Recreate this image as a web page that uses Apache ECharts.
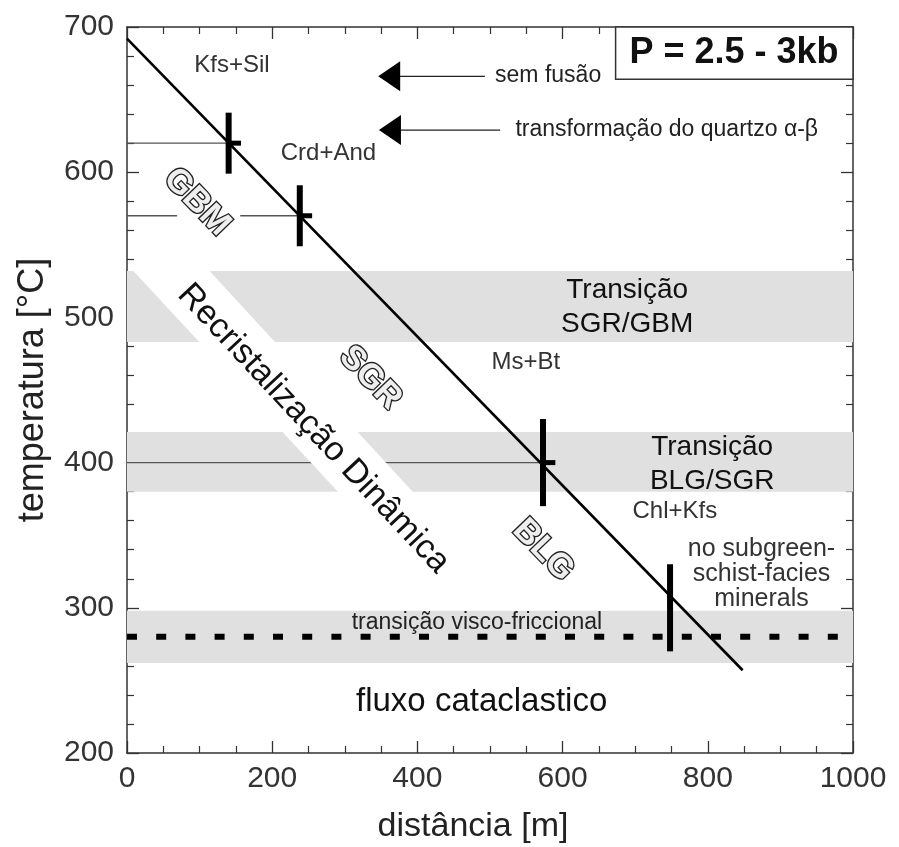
<!DOCTYPE html>
<html><head><meta charset="utf-8">
<script src="https://cdn.jsdelivr.net/npm/echarts@6/dist/echarts.min.js"></script>
<style>html,body{margin:0;padding:0;background:#fff}#c{width:899px;height:847px}</style>
</head><body><div id="c"></div>
<script>
// ---- data (distance in m, temperature in °C) ----
const xRange = [0, 1000];
const yRange = [200, 700];
const bands = [[483, 532], [380, 421], [262, 298]];          // transition temperature ranges
const stripe = [[5, 534], [110, 534], [397, 378], [294, 378]]; // white "Recristalização Dinâmica" strip
const geotherm = [[0, 692], [848, 257]];
const thinLines = [[0, 620, 140, 620], [0, 570, 69, 570], [156, 570, 238, 570], [0, 400, 573, 400]];
const crossBars = [[140, 599, 140, 641], [238, 549, 238, 591], [573, 370, 573, 430], [748, 270, 748, 330]];
const crossArms = [[138, 620, 157, 620], [236, 570, 255, 570], [571, 400, 590, 400]];
const dashedLine = [[0, 280], [1000, 280]];
const arrows = [[346, 666, 493], [347, 629, 514]];            // tip x, temperature, tail x

// annotation anchors (data coords)
const mineralLabels = [
  ['Kfs+Sil', 144.5, 673.6], ['Crd+And', 277.5, 612.8], ['Ms+Bt', 549.5, 468.7],
  ['Chl+Kfs', 754.6, 366.5], ['no subgreen-\nschist-facies\nminerals', 874, 323]
];
const arrowLabels = [['sem fusão', 507, 666.5], ['transformação do quartzo α-β', 535, 629]];
const transitionLabels = [['Transição\nSGR/GBM', 689, 507], ['Transição\nBLG/SGR', 806, 398.5]];
const outlineLabels = [['GBM', 96.3, 579.5], ['SGR', 335, 458.4], ['BLG', 573.4, 339.6]];
const regimeLabel = ['Recristalização Dinâmica', 256.8, 423.4];
const viscoLabel = ['transição visco-friccional', 482, 290];
const cataLabel = ['fluxo cataclastico', 488.5, 235.2];
const pressureLabel = ['P = 2.5 - 3kb', 836, 681.7];
const pressureBox = [[673, 700], [1000, 664]];

const FONT = '"Liberation Sans", Arial, Helvetica, sans-serif';
const chart = echarts.init(document.getElementById('c'));

function segItem(color, width) {
  return function (params, api) {
    const a = api.coord([api.value(0), api.value(1)]);
    const b = api.coord([api.value(2), api.value(3)]);
    return { type: 'line', shape: { x1: a[0], y1: a[1], x2: b[0], y2: b[1] },
      style: { stroke: color, lineWidth: width, lineCap: 'butt' } };
  };
}

const axisCommon = {
  axisLine: { show: true, onZero: false, lineStyle: { color: '#333', width: 1.5 } },
  axisTick: { show: true, inside: true, length: 12, lineStyle: { color: '#333', width: 1.3 } },
  minorTick: { show: true, length: 7, lineStyle: { color: '#333', width: 1.2 } },
  splitLine: { show: false }
};
const plain = function (v) { return String(v); };

chart.setOption({
  animation: false,
  backgroundColor: '#fff',
  grid: { left: 127, right: 46, top: 27, bottom: 94, containLabel: false, outerBoundsMode: 'none' },
  xAxis: [
    Object.assign({}, axisCommon, {
      type: 'value', min: xRange[0], max: xRange[1], interval: 200, position: 'bottom',
      minorTick: Object.assign({}, axisCommon.minorTick, { splitNumber: 4 }),
      axisLabel: { fontSize: 30, color: '#333', fontFamily: FONT, margin: 11, formatter: plain },
      name: 'distância [m]', nameLocation: 'middle', nameGap: 57,
      nameTextStyle: { fontSize: 34, color: '#222', fontFamily: FONT, padding: [0, 34, 0, 0] }
    }),
    Object.assign({}, axisCommon, {
      type: 'value', min: xRange[0], max: xRange[1], interval: 200, position: 'top',
      minorTick: Object.assign({}, axisCommon.minorTick, { splitNumber: 4 }),
      axisLabel: { show: false }
    })
  ],
  yAxis: [
    Object.assign({}, axisCommon, {
      type: 'value', min: yRange[0], max: yRange[1], interval: 100, position: 'left',
      minorTick: Object.assign({}, axisCommon.minorTick, { splitNumber: 5 }),
      axisLabel: { fontSize: 30, color: '#333', fontFamily: FONT, margin: 13, formatter: plain },
      name: 'temperatura [°C]', nameLocation: 'middle', nameGap: 76, nameRotate: 90,
      nameTextStyle: { fontSize: 36, color: '#222', fontFamily: FONT }
    }),
    Object.assign({}, axisCommon, {
      type: 'value', min: yRange[0], max: yRange[1], interval: 100, position: 'right',
      minorTick: Object.assign({}, axisCommon.minorTick, { splitNumber: 5 }),
      axisLabel: { show: false }
    })
  ],
  series: [
    { type: 'custom', z: 1, silent: true, data: bands,
      renderItem: function (params, api) {
        const p1 = api.coord([xRange[0], api.value(1)]);
        const p2 = api.coord([xRange[1], api.value(0)]);
        return { type: 'rect', shape: { x: p1[0], y: p1[1], width: p2[0] - p1[0], height: p2[1] - p1[1] },
          style: { fill: '#e0e0e0' } };
      } },
    { type: 'custom', z: 2, silent: true, data: thinLines, renderItem: segItem('#555', 1.4) },
    { type: 'custom', z: 3, silent: true, data: [[0, 0]],
      renderItem: function (params, api) {
        return { type: 'polygon', shape: { points: stripe.map(function (p) { return api.coord(p); }) },
          style: { fill: '#fff' } };
      } },
    { type: 'line', z: 4, data: dashedLine, symbol: 'none', silent: true,
      lineStyle: { color: '#000', width: 6, type: [10, 19.2], cap: 'butt' } },
    { type: 'line', z: 5, data: geotherm, symbol: 'none', silent: true,
      lineStyle: { color: '#000', width: 2.6 } },
    { type: 'custom', z: 6, silent: true, data: crossBars, renderItem: segItem('#000', 6) },
    { type: 'custom', z: 6, silent: true, data: crossArms, renderItem: segItem('#000', 5) },
    { type: 'custom', z: 6, silent: true, data: arrows,
      renderItem: function (params, api) {
        const tip = api.coord([api.value(0), api.value(1)]);
        const tail = api.coord([api.value(2), api.value(1)]);
        return { type: 'group', children: [
          { type: 'line', shape: { x1: tip[0] + 10, y1: tip[1], x2: tail[0], y2: tail[1] },
            style: { stroke: '#222', lineWidth: 1.4 } },
          { type: 'polygon', shape: { points: [[tip[0], tip[1]], [tip[0] + 22, tip[1] - 15], [tip[0] + 22, tip[1] + 15]] },
            style: { fill: '#000' } }
        ] };
      } }
  ]
});

function px(x, y) { return chart.convertToPixel({ gridIndex: 0 }, [x, y]); }
function txt(label, size, opts) {
  const p = px(label[1], label[2]);
  return Object.assign({ type: 'text', x: p[0], y: p[1], z: 100, silent: true,
    style: Object.assign({ text: label[0], font: size + 'px ' + FONT, fill: '#333',
      textAlign: 'center', textVerticalAlign: 'middle' }, opts || {}) });
}
const g = [];
mineralLabels.forEach(function (l, i) {
  g.push(txt(l, i === 4 ? 25 : 24, { fill: '#333', lineHeight: 25 }));
});
arrowLabels.forEach(function (l) {
  g.push(txt(l, 23, { fill: '#222', textAlign: 'left' }));
});
transitionLabels.forEach(function (l) {
  g.push(txt(l, 28, { fill: '#111', lineHeight: 34 }));
});
outlineLabels.forEach(function (l) {
  const e = txt(l, 34, { font: 'bold 34px ' + FONT, fill: '#eeeeee', stroke: '#222', lineWidth: 2.7 });
  e.rotation = -46 * Math.PI / 180;
  g.push(e);
});
const rl = txt(regimeLabel, 34, { fill: '#111' });
rl.rotation = -47 * Math.PI / 180;
g.push(rl);
g.push(txt(viscoLabel, 23, { fill: '#222' }));
g.push(txt(cataLabel, 33, { fill: '#111' }));
const b1 = px(pressureBox[0][0], pressureBox[0][1]);
const b2 = px(pressureBox[1][0], pressureBox[1][1]);
g.push({ type: 'rect', z: 99, silent: true,
  shape: { x: b1[0], y: b1[1], width: b2[0] - b1[0], height: b2[1] - b1[1] },
  style: { fill: '#fff', stroke: '#333', lineWidth: 1.5 } });
g.push(txt(pressureLabel, 36, { font: 'bold 36px ' + FONT, fill: '#111' }));
chart.setOption({ graphic: { elements: g } });
</script>
</body></html>
